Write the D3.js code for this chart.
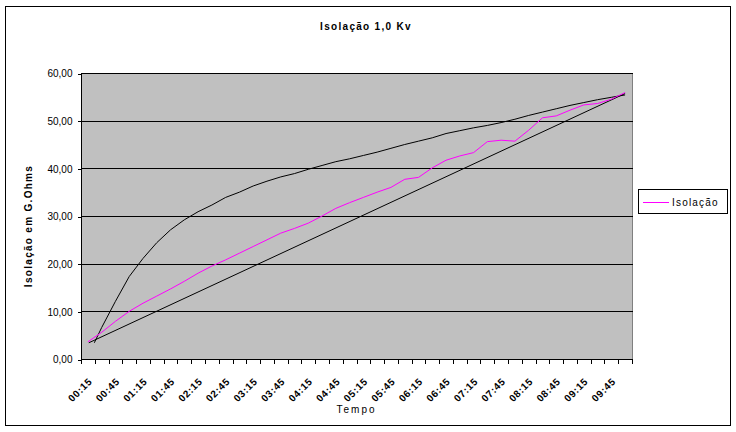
<!DOCTYPE html>
<html><head><meta charset="utf-8">
<script src="https://cdn.jsdelivr.net/npm/d3@7"></script>
<style>
body{margin:0;background:#fff;}
text{font-family:"Liberation Sans",Arial,sans-serif;fill:#000;}
</style></head>
<body>
<svg id="chart" width="736" height="432"></svg>
<script>
// ---- data ----
const categories = ["00:15","00:30","00:45","01:00","01:15","01:30","01:45","02:00","02:15","02:30",
  "02:45","03:00","03:15","03:30","03:45","04:00","04:15","04:30","04:45","05:00",
  "05:15","05:30","05:45","06:00","06:15","06:30","06:45","07:00","07:15","07:30",
  "07:45","08:00","08:15","08:30","08:45","09:00","09:15","09:30","09:45","10:00"];
const isolacao = [3.6,5.6,7.9,10.0,11.7,13.2,14.7,16.3,18.0,19.5,
  20.8,22.2,23.6,25.0,26.4,27.4,28.5,30.0,31.6,32.8,
  33.9,35.0,36.0,37.7,38.1,40.1,41.7,42.6,43.3,45.6,
  45.9,45.7,48.0,50.6,51.0,52.2,53.3,53.6,54.5,55.9];
// black reference curve (drawn line, not in legend)
const refCurveTimes = ["00:22","00:30","00:45","01:00","01:15","01:30","01:45","02:00","02:15","02:30",
  "02:45","03:00","03:15","03:30","03:45","04:00","04:15","04:30","04:45","05:00",
  "05:15","05:30","05:45","06:00","06:15","06:30","06:45","07:00","07:15","07:30",
  "07:45","08:00","08:15","08:30","08:45","09:00","09:15","09:30","09:45","10:00"];
const refCurveValues = [3.4,6.6,12.1,17.3,21.1,24.4,27.1,29.2,30.9,32.3,
  33.9,35.0,36.3,37.3,38.2,38.9,39.8,40.6,41.4,42.0,
  42.7,43.4,44.2,45.0,45.7,46.4,47.3,47.9,48.5,49.0,
  49.6,50.3,51.1,51.8,52.5,53.2,53.8,54.4,54.9,55.4];
// black reference straight line
const refLineTimes = ["00:16","10:00"];
const refLineValues = [3.4,55.7];
const yTicks = [0,10,20,30,40,50,60];
const title = "Isolação 1,0 Kv";
const yTitle = "Isolação em G.Ohms";
const xTitle = "Tempo";
const seriesName = "Isolação";

// ---- layout ----
const svg = d3.select("#chart");
const L = 81, R = 632, T = 73, B = 359;
const toMin = s => { const p = s.split(":"); return +p[0]*60 + +p[1]; };

const x = d3.scaleBand().domain(categories).range([L, R]).padding(0);
const bw = x.bandwidth();
const xc = c => x(c) + bw/2;
const xt = d3.scaleLinear().domain([toMin(categories[0]), toMin(categories[categories.length-1])])
  .range([xc(categories[0]), xc(categories[categories.length-1])]);
const y = d3.scaleLinear().domain([0,60]).range([B, T]);

// outer border
svg.append("rect").attr("x",5.5).attr("y",6.5).attr("width",725).attr("height",419)
  .attr("fill","#fff").attr("stroke","#000").attr("stroke-width",1);

// plot area
svg.append("rect").attr("x",L).attr("y",T).attr("width",R-L).attr("height",B-T)
  .attr("fill","#c0c0c0");
svg.append("line").attr("x1",R+0.5).attr("x2",R+0.5).attr("y1",T).attr("y2",B)
  .attr("stroke","#808080");

// gridlines
svg.append("g").selectAll("line").data(yTicks.filter(d=>d>0)).join("line")
  .attr("x1",L).attr("x2",R+1).attr("y1",d=>Math.round(y(d))+0.5).attr("y2",d=>Math.round(y(d))+0.5)
  .attr("stroke","#000");

// y axis
const yAxis = d3.axisLeft(y).tickValues(yTicks).tickSize(4).tickPadding(5)
  .tickFormat(d => d3.format(".2f")(d).replace(".", ","));
const gy = svg.append("g").attr("transform",`translate(${L+0.5},0.5)`).call(yAxis);
gy.selectAll("path,line").attr("stroke","#000").attr("shape-rendering","crispEdges");
gy.select(".domain").attr("d",`M0,${T}V${B}`);
gy.selectAll("text").attr("font-size",10).attr("font-family","Liberation Sans, Arial, sans-serif");

// x axis: ticks between categories
const boundaries = categories.map(c => x(c)).concat([R]);
const gx = svg.append("g");
gx.append("line").attr("x1",L).attr("x2",R+1).attr("y1",B+0.5).attr("y2",B+0.5).attr("stroke","#000");
gx.selectAll("line.tk").data(boundaries).join("line").attr("class","tk")
  .attr("x1",d=>Math.round(d)+0.5).attr("x2",d=>Math.round(d)+0.5)
  .attr("y1",B).attr("y2",B+5).attr("stroke","#000");
gx.selectAll("text").data(categories.filter((c,i)=>i%2===0)).join("text")
  .attr("transform", c => `translate(${xc(c)+5},${B+23}) rotate(-45)`)
  .attr("text-anchor","end").attr("font-size",10).attr("font-weight","bold")
  .attr("letter-spacing",0.7).text(c=>c);

// lines
const lineCat = d3.line().x((d,i)=>xc(categories[i])).y(d=>y(d));
const lineT = (times) => d3.line().x((d,i)=>xt(toMin(times[i]))).y(d=>y(d));
svg.append("path").datum(refLineValues).attr("d", lineT(refLineTimes))
  .attr("fill","none").attr("stroke","#000").attr("stroke-width",1);
svg.append("path").datum(refCurveValues).attr("d", lineT(refCurveTimes))
  .attr("fill","none").attr("stroke","#000").attr("stroke-width",1);
svg.append("path").datum(isolacao).attr("d", lineCat)
  .attr("fill","none").attr("stroke","#ff00ff").attr("stroke-width",1);

// titles
svg.append("text").attr("x",366).attr("y",30).attr("text-anchor","middle")
  .attr("font-size",10).attr("font-weight","bold").attr("letter-spacing",1.3).text(title);
svg.append("text").attr("transform",`translate(32,${(T+B)/2+10}) rotate(-90)`)
  .attr("text-anchor","middle").attr("font-size",10).attr("font-weight","bold")
  .attr("letter-spacing",1.3).text(yTitle);
svg.append("text").attr("x",(L+R)/2).attr("y",413).attr("text-anchor","middle")
  .attr("font-size",10).attr("letter-spacing",2).text(xTitle);

// legend
const lg = svg.append("g");
lg.append("rect").attr("x",638.5).attr("y",189.5).attr("width",89).attr("height",24)
  .attr("fill","#fff").attr("stroke","#000");
lg.append("line").attr("x1",643).attr("x2",669).attr("y1",202.5).attr("y2",202.5)
  .attr("stroke","#ff00ff");
lg.append("text").attr("x",672).attr("y",206).attr("font-size",10)
  .attr("letter-spacing",1.2).text(seriesName);
</script>
</body></html>
